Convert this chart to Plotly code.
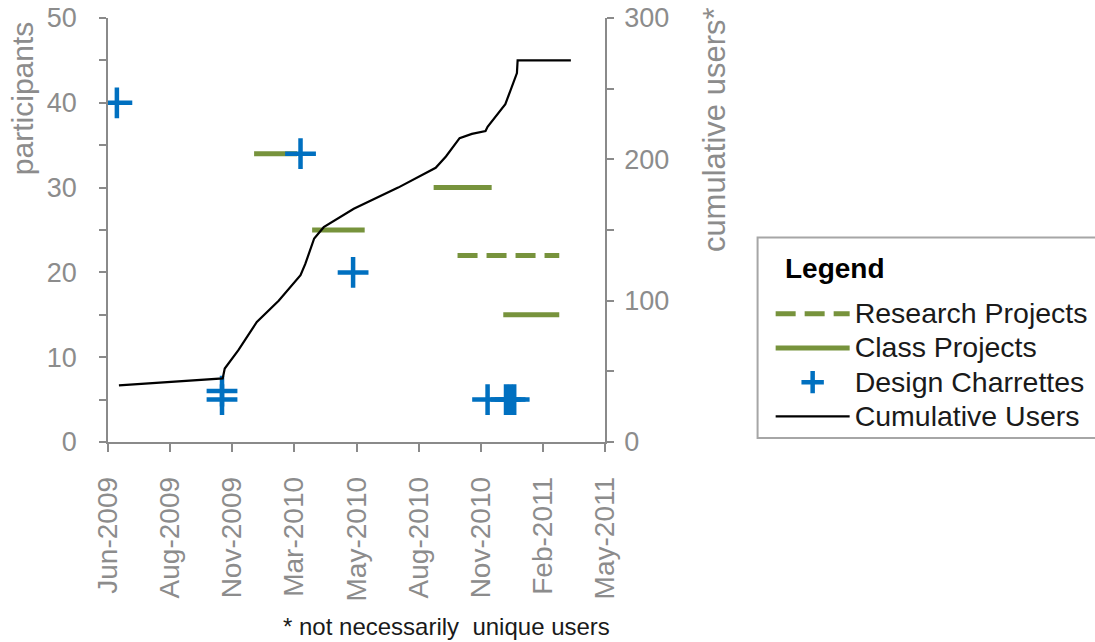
import plotly.graph_objects as go

# ---------------- data ----------------
tick_dates = ['2009-06-01', '2009-08-31', '2009-11-30', '2010-03-01', '2010-05-31',
              '2010-08-30', '2010-11-29', '2011-02-28', '2011-05-30']
tick_labels = ['Jun-2009', 'Aug-2009', 'Nov-2009', 'Mar-2010', 'May-2010',
               'Aug-2010', 'Nov-2010', 'Feb-2011', 'May-2011']

# Research projects (start, end, participants)
research_start = ['2010-10-26']
research_end = ['2011-03-24']
research_participants = [22]

# Class projects (start, end, participants)
class_start = ['2010-01-01', '2010-03-27', '2010-09-21', '2011-01-01']
class_end = ['2010-03-05', '2010-06-12', '2010-12-15', '2011-03-24']
class_participants = [34, 25, 30, 15]

# Design charrettes
charrette_dates = ['2009-06-14', '2009-11-15', '2009-11-15', '2010-03-10', '2010-05-26',
                   '2010-12-09', '2011-01-05', '2011-01-11', '2011-01-17']
charrette_participants = [40, 6, 5, 34, 20, 5, 5, 5, 5]

# Cumulative users
cum_dates = ['2009-06-17', '2009-11-16', '2009-11-19', '2009-12-09', '2010-01-05',
             '2010-02-06', '2010-03-10', '2010-03-17', '2010-03-30', '2010-04-13',
             '2010-05-27', '2010-07-31', '2010-09-24', '2010-10-09', '2010-10-29',
             '2010-11-16', '2010-12-06', '2010-12-09', '2011-01-04', '2011-01-13',
             '2011-01-21', '2011-01-22', '2011-04-10']
cum_users = [40, 45, 52, 65, 85, 100, 118, 126, 144, 152, 165, 180, 194, 202, 215,
             218, 220, 223, 239, 250, 261, 270, 270]

legend_names = ['Research Projects', 'Class Projects', 'Design Charrettes',
                'Cumulative Users']


def segments(starts, ends, vals):
    xs, ys = [], []
    for s, e, v in zip(starts, ends, vals):
        xs += [s, e, None]
        ys += [v, v, None]
    return xs, ys


def lname(t):
    return '<span style="font-size:28.5px">' + t + '</span>'


GREEN = '#77933C'
BLUE = '#0070C0'
GRAY = '#8C8C8C'
AXIS = '#8A8A8A'
FONT = 'Liberation Sans, Arial, sans-serif'

fig = go.Figure()

rx, ry = segments(research_start, research_end, research_participants)
fig.add_trace(go.Scatter(x=rx, y=ry, mode='lines', name=lname(legend_names[0]),
                         line=dict(color=GREEN, width=5, dash='20px,9px'),
                         legendrank=1))

cx, cy = segments(class_start, class_end, class_participants)
fig.add_trace(go.Scatter(x=cx, y=cy, mode='lines', name=lname(legend_names[1]),
                         line=dict(color=GREEN, width=5), legendrank=2))

fig.add_trace(go.Scatter(x=charrette_dates, y=charrette_participants, mode='markers',
                         name=lname(legend_names[2]),
                         marker=dict(symbol='cross-thin', size=22,
                                     line=dict(color=BLUE, width=4.5)),
                         legendrank=3))

fig.add_trace(go.Scatter(x=cum_dates, y=cum_users, mode='lines',
                         name=lname(legend_names[3]),
                         yaxis='y2', line=dict(color='black', width=2.2), legendrank=4))

fig.update_layout(
    width=1095, height=642,
    margin=dict(l=108, r=490, t=18, b=200, autoexpand=False),
    paper_bgcolor='white', plot_bgcolor='white',
    font=dict(family=FONT, color=GRAY, size=26),
    showlegend=True,
    xaxis=dict(type='date', range=['2009-06-01', '2011-05-30'],
               tickmode='array', tickvals=tick_dates, ticktext=tick_labels,
               tickangle=-90, ticks='outside', ticklen=8, tickwidth=1.5, tickcolor=AXIS,
               showline=True, linecolor=AXIS, linewidth=1.5, showgrid=False,
               zeroline=False, tickfont=dict(size=28, color=GRAY),
               ticklabelstandoff=14),
    yaxis=dict(range=[0, 50], dtick=10, tick0=0, ticks='outside', ticklen=7,
               tickwidth=1.5, tickcolor=AXIS,
               minor=dict(dtick=5, ticks='outside', ticklen=7, tickwidth=1.5,
                          tickcolor=AXIS),
               showline=True, linecolor=AXIS, linewidth=1.5, showgrid=False,
               zeroline=False, tickfont=dict(size=27, color=GRAY),
               ticklabelstandoff=17),
    yaxis2=dict(range=[0, 300], dtick=100, tick0=0, overlaying='y', side='right',
                ticks='outside', ticklen=7, tickwidth=1.5, tickcolor=AXIS,
                minor=dict(dtick=50, ticks='outside', ticklen=7, tickwidth=1.5,
                           tickcolor=AXIS),
                showline=True, linecolor=AXIS, linewidth=1.5, showgrid=False,
                zeroline=False, tickfont=dict(size=27, color=GRAY),
                ticklabelstandoff=5),
    legend=dict(x=1.3333, y=0.3546, xanchor='left', yanchor='top',
                bgcolor='rgba(0,0,0,0)', borderwidth=0,
                font=dict(size=24, color='#1A1A1A', family=FONT),
                traceorder='normal', itemwidth=74),
    shapes=[
        dict(type='rect', xref='paper', yref='paper', x0=1.307, x1=2.02,
             y0=0.0095, y1=0.4823, line=dict(color='#A6A6A6', width=2),
             fillcolor='white', layer='below'),
    ],
    annotations=[
        dict(text='<b>Legend</b>', xref='paper', yref='paper', x=1.3576, y=0.409,
             xanchor='left', yanchor='middle', showarrow=False,
             font=dict(size=28, color='black')),
        dict(text='participants', xref='paper', yref='paper', x=-0.172, y=0.995,
             xanchor='center', yanchor='top', textangle=-90, showarrow=False,
             font=dict(size=30, color=GRAY)),
        dict(text='cumulative users*', xref='paper', yref='paper', x=1.22, y=1.03,
             xanchor='center', yanchor='top', textangle=-90, showarrow=False,
             font=dict(size=31, color=GRAY)),
        dict(text='* not necessarily  unique users', xref='paper', yref='paper',
             x=0.681, y=-0.435, xanchor='center', yanchor='middle', showarrow=False,
             font=dict(size=24, color='#1A1A1A')),
    ],
)

fig.write_html('out.html')
